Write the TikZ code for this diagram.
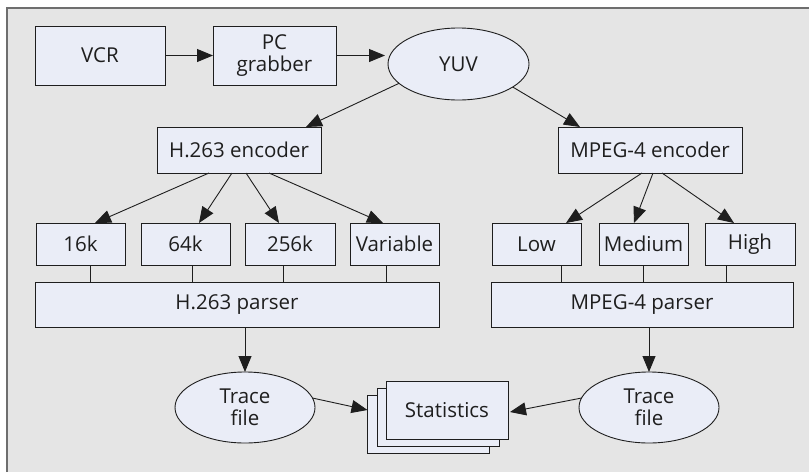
\documentclass[tikz,border=0pt]{standalone}
\usepackage{fontspec}
\setmainfont{Open Sans}
\usetikzlibrary{arrows.meta,shapes.geometric,calc}
\definecolor{bgcol}{RGB}{229,229,229}
\definecolor{framecol}{RGB}{110,110,110}
\definecolor{nodefill}{RGB}{234,237,247}
\definecolor{linecol}{RGB}{30,30,30}
\tikzset{
  base/.style={draw=linecol, fill=nodefill, line width=0.9pt, inner sep=0pt, outer sep=0pt,
    align=center, text=linecol, font=\fontsize{20.5}{21.5}\selectfont},
  box/.style={base, rectangle},
  oval/.style={base, ellipse},
  arr/.style={draw=linecol, line width=0.9pt, -{Triangle[length=16pt,width=13pt]}},
  link/.style={draw=linecol, line width=0.9pt},
}
\begin{document}
\begin{tikzpicture}[x=1pt,y=-1pt]
\useasboundingbox (0,0) rectangle (809,472);
\fill[white] (0,0) rectangle (809,472);
\fill[bgcol] (7,8) rectangle (809,472);
\draw[framecol, line width=2.2pt] (6.8,472) -- (6.8,7.8) -- (809,7.8);

% top row
\node[box, minimum width=130pt, minimum height=59pt] (vcr) at (100,55.5) {VCR};
\node[box, minimum width=123pt, minimum height=59pt] (pc) at (274.5,55.5) {PC\\grabber};
\node[oval, minimum width=141pt, minimum height=72pt] (yuv) at (458.5,64) {YUV};

% encoders
\node[box, minimum width=164pt, minimum height=46pt] (henc) at (239,150) {H.263 encoder};
\node[box, minimum width=184pt, minimum height=46pt] (menc) at (650,150) {MPEG-4 encoder};

% rates
\node[box, minimum width=89pt, minimum height=42pt] (k16) at (80.5,244) {16k};
\node[box, minimum width=89pt, minimum height=42pt] (k64) at (185.5,244) {64k};
\node[box, minimum width=90pt, minimum height=42pt] (k256) at (290,244) {256k};
\node[box, minimum width=89pt, minimum height=42pt] (var) at (394.5,244) {Variable};
\node[box, minimum width=89pt, minimum height=42pt] (low) at (536.5,244) {Low};
\node[box, minimum width=89pt, minimum height=42pt] (med) at (643.5,244) {Medium};
\node[box, minimum width=90pt, minimum height=42pt] (high) at (750,244) {High};

% parsers
\node[box, minimum width=404pt, minimum height=45pt] (hpar) at (237,304.5) {H.263 parser};
\node[box, minimum width=302pt, minimum height=45pt] (mpar) at (642,304.5) {MPEG-4 parser};

% trace files
\node[oval, minimum width=140pt, minimum height=71pt] (tl) at (245,407.5) {Trace\\file};
\node[oval, minimum width=140pt, minimum height=71pt] (tr) at (649,407.5) {Trace\\file};

% statistics stack
\node[box, minimum width=122pt, minimum height=58pt] (stats3) at (428.5,424.5) {};
\node[box, minimum width=122pt, minimum height=58pt] (stats2) at (438,417.2) {};
\node[box, minimum width=122pt, minimum height=58pt] (stats) at (447,410) {Statistics};

% connectors
\draw[arr] (vcr.east) -- (pc.west);
\draw[arr] (pc.east) -- ([xshift=-3pt]pc.east -| yuv.west);
\draw[arr] (yuv.198) -- ([xshift=67pt]henc.north);
\draw[arr] (yuv.-23) -- ([xshift=-70pt]menc.north);

\draw[arr] ([xshift=-30pt]henc.south) -- ([xshift=14.5pt]k16.north);
\draw[arr] ([xshift=-7pt]henc.south) -- ([xshift=13.5pt]k64.north);
\draw[arr] ([xshift=7pt]henc.south) -- ([xshift=-11pt]k256.north);
\draw[arr] ([xshift=30pt]henc.south) -- ([xshift=-11.5pt]var.north);

\draw[arr] ([xshift=-8pt]menc.south) -- ([xshift=29.5pt]low.north);
\draw[arr] ([xshift=3pt]menc.south) -- ([xshift=-9.5pt]med.north);
\draw[arr] ([xshift=12pt]menc.south) -- ([xshift=-16pt]high.north);

\draw[link] ([xshift=9.5pt]k16.south) -- ([xshift=9.5pt]k16.south |- hpar.north);
\draw[link] ([xshift=6.5pt]k64.south) -- ([xshift=6.5pt]k64.south |- hpar.north);
\draw[link] ([xshift=-7pt]k256.south) -- ([xshift=-7pt]k256.south |- hpar.north);
\draw[link] ([xshift=-8.5pt]var.south) -- ([xshift=-8.5pt]var.south |- hpar.north);
\draw[link] ([xshift=24.5pt]low.south) -- ([xshift=24.5pt]low.south |- mpar.north);
\draw[link] (med.south) -- (med.south |- mpar.north);
\draw[link] ([xshift=-24pt]high.south) -- ([xshift=-24pt]high.south |- mpar.north);

\draw[arr] (tl.north |- hpar.south) -- (tl.north);
\draw[arr] (tr.north |- mpar.south) -- (tr.north);

\draw[arr] (tl.8) -- ([yshift=14.5pt]stats3.west);
\draw[arr] (tr.172) -- ([yshift=-2pt,xshift=2pt]stats.east);
\end{tikzpicture}
\end{document}
